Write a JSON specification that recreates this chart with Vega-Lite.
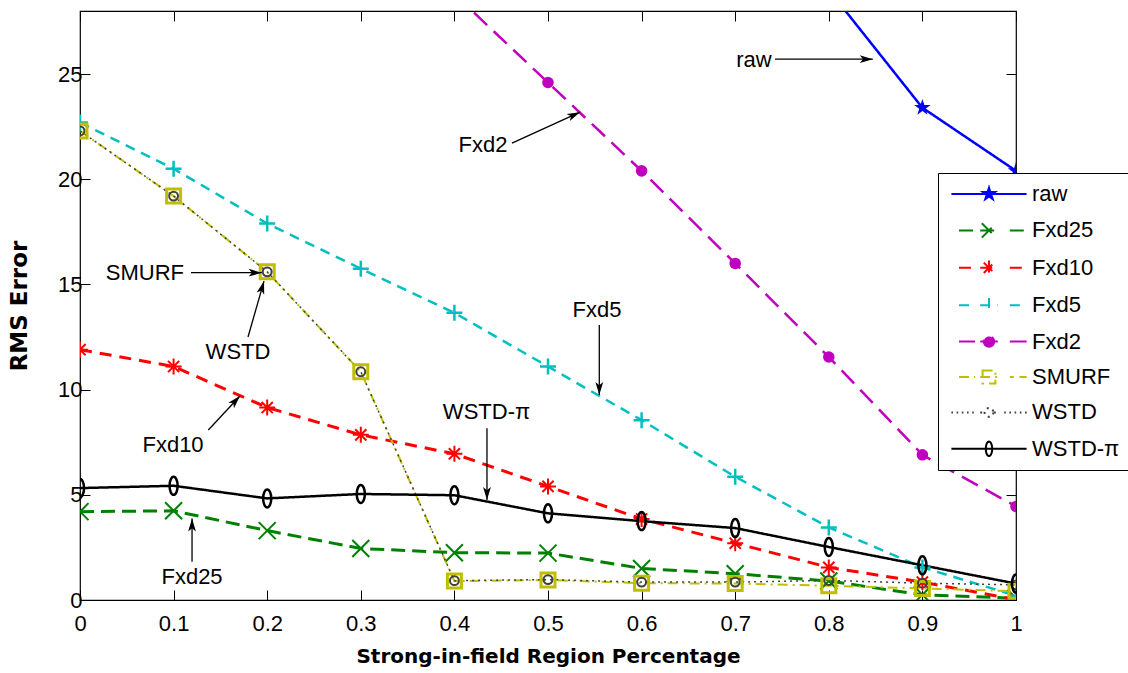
{
  "$schema": "https://vega.github.io/schema/vega-lite/v6.json",
  "width": 936,
  "height": 589,
  "autosize": {"type": "none"},
  "padding": {"left": 80, "top": 11, "right": 112, "bottom": 73},
  "background": "white",
  "config": {
    "font": "Liberation Sans",
    "view": {"stroke": "#000000", "strokeWidth": 1.2},
    "axis": {"grid": false, "domain": false, "tickColor": "#000000", "tickWidth": 1, "labelColor": "#000000", "labelFont": "Liberation Sans", "labelFontSize": 22, "titleColor": "#000000", "titleFont": "DejaVu Sans", "titleFontWeight": "bold"}
  },
  "datasets": {
    "series": [
      {"series": "raw", "x": 0.8, "y": 29.0}, {"series": "raw", "x": 0.9, "y": 23.4}, {"series": "raw", "x": 1.0, "y": 20.4},
      {"series": "Fxd25", "x": 0.0, "y": 4.2}, {"series": "Fxd25", "x": 0.1, "y": 4.24}, {"series": "Fxd25", "x": 0.2, "y": 3.3}, {"series": "Fxd25", "x": 0.3, "y": 2.45}, {"series": "Fxd25", "x": 0.4, "y": 2.25}, {"series": "Fxd25", "x": 0.5, "y": 2.23}, {"series": "Fxd25", "x": 0.6, "y": 1.5}, {"series": "Fxd25", "x": 0.7, "y": 1.25}, {"series": "Fxd25", "x": 0.8, "y": 0.9}, {"series": "Fxd25", "x": 0.9, "y": 0.25}, {"series": "Fxd25", "x": 1.0, "y": 0.08},
      {"series": "Fxd10", "x": 0.0, "y": 11.9}, {"series": "Fxd10", "x": 0.1, "y": 11.1}, {"series": "Fxd10", "x": 0.2, "y": 9.15}, {"series": "Fxd10", "x": 0.3, "y": 7.85}, {"series": "Fxd10", "x": 0.4, "y": 6.95}, {"series": "Fxd10", "x": 0.5, "y": 5.4}, {"series": "Fxd10", "x": 0.6, "y": 3.85}, {"series": "Fxd10", "x": 0.7, "y": 2.7}, {"series": "Fxd10", "x": 0.8, "y": 1.55}, {"series": "Fxd10", "x": 0.9, "y": 0.85}, {"series": "Fxd10", "x": 1.0, "y": 0.02},
      {"series": "Fxd5", "x": 0.0, "y": 22.7}, {"series": "Fxd5", "x": 0.1, "y": 20.5}, {"series": "Fxd5", "x": 0.2, "y": 17.9}, {"series": "Fxd5", "x": 0.3, "y": 15.75}, {"series": "Fxd5", "x": 0.4, "y": 13.65}, {"series": "Fxd5", "x": 0.5, "y": 11.1}, {"series": "Fxd5", "x": 0.6, "y": 8.55}, {"series": "Fxd5", "x": 0.7, "y": 5.86}, {"series": "Fxd5", "x": 0.8, "y": 3.45}, {"series": "Fxd5", "x": 0.9, "y": 1.55}, {"series": "Fxd5", "x": 1.0, "y": 0.2},
      {"series": "Fxd2", "x": 0.4, "y": 28.8}, {"series": "Fxd2", "x": 0.5, "y": 24.6}, {"series": "Fxd2", "x": 0.6, "y": 20.4}, {"series": "Fxd2", "x": 0.7, "y": 16.0}, {"series": "Fxd2", "x": 0.8, "y": 11.55}, {"series": "Fxd2", "x": 0.9, "y": 6.9}, {"series": "Fxd2", "x": 1.0, "y": 4.45},
      {"series": "SMURF", "x": 0.0, "y": 22.3}, {"series": "SMURF", "x": 0.1, "y": 19.2}, {"series": "SMURF", "x": 0.2, "y": 15.6}, {"series": "SMURF", "x": 0.3, "y": 10.85}, {"series": "SMURF", "x": 0.4, "y": 0.9}, {"series": "SMURF", "x": 0.5, "y": 0.95}, {"series": "SMURF", "x": 0.6, "y": 0.8}, {"series": "SMURF", "x": 0.7, "y": 0.78}, {"series": "SMURF", "x": 0.8, "y": 0.68}, {"series": "SMURF", "x": 0.9, "y": 0.55}, {"series": "SMURF", "x": 1.0, "y": 0.42},
      {"series": "WSTD", "x": 0.0, "y": 22.3}, {"series": "WSTD", "x": 0.1, "y": 19.2}, {"series": "WSTD", "x": 0.2, "y": 15.6}, {"series": "WSTD", "x": 0.3, "y": 10.85}, {"series": "WSTD", "x": 0.4, "y": 0.92}, {"series": "WSTD", "x": 0.5, "y": 0.97}, {"series": "WSTD", "x": 0.6, "y": 0.85}, {"series": "WSTD", "x": 0.7, "y": 0.85}, {"series": "WSTD", "x": 0.8, "y": 0.93}, {"series": "WSTD", "x": 0.9, "y": 0.8}, {"series": "WSTD", "x": 1.0, "y": 0.72},
      {"series": "WSTD-π", "x": 0.0, "y": 5.32}, {"series": "WSTD-π", "x": 0.1, "y": 5.43}, {"series": "WSTD-π", "x": 0.2, "y": 4.83}, {"series": "WSTD-π", "x": 0.3, "y": 5.04}, {"series": "WSTD-π", "x": 0.4, "y": 4.98}, {"series": "WSTD-π", "x": 0.5, "y": 4.12}, {"series": "WSTD-π", "x": 0.6, "y": 3.75}, {"series": "WSTD-π", "x": 0.7, "y": 3.42}, {"series": "WSTD-π", "x": 0.8, "y": 2.52}, {"series": "WSTD-π", "x": 0.9, "y": 1.65}, {"series": "WSTD-π", "x": 1.0, "y": 0.78}
    ],
    "ann": [
      {"label": "raw", "tx": 0.72, "ty": 25.67, "x1": 0.7425, "y1": 25.71, "x2": 0.847, "y2": 25.71},
      {"label": "Fxd2", "tx": 0.4306, "ty": 21.63, "x1": 0.4615, "y1": 21.72, "x2": 0.5342, "y2": 23.19},
      {"label": "SMURF", "tx": 0.0694, "ty": 15.54, "x1": 0.1186, "y1": 15.56, "x2": 0.1941, "y2": 15.56},
      {"label": "WSTD", "tx": 0.1688, "ty": 11.8, "x1": 0.1795, "y1": 12.5, "x2": 0.1966, "y2": 15.16},
      {"label": "Fxd10", "tx": 0.0994, "ty": 7.37, "x1": 0.1371, "y1": 8.08, "x2": 0.1709, "y2": 9.7},
      {"label": "Fxd25", "tx": 0.1197, "ty": 1.11, "x1": 0.1197, "y1": 1.82, "x2": 0.1197, "y2": 3.88},
      {"label": "Fxd5", "tx": 0.5524, "ty": 13.78, "x1": 0.5548, "y1": 13.07, "x2": 0.5548, "y2": 9.74},
      {"label": "WSTD-π", "tx": 0.4343, "ty": 8.95, "x1": 0.4348, "y1": 8.16, "x2": 0.4348, "y2": 4.75}
    ]
  },
  "layer": [
    {
      "data": {"name": "series"},
      "mark": {"type": "line", "clip": true},
      "encoding": {
        "x": {"field": "x", "type": "quantitative", "scale": {"domain": [0, 1], "nice": false, "zero": false},
          "axis": {"orient": "bottom", "values": [0, 0.1, 0.2, 0.3, 0.4, 0.5, 0.6, 0.7, 0.8, 0.9, 1], "format": ".1~f", "tickSize": -10, "labelFlush": false, "labelPadding": 23, "labelOverlap": false, "title": "Strong-in-field Region Percentage", "titleFontSize": 20, "titlePadding": 12}},
        "y": {"field": "y", "type": "quantitative", "scale": {"domain": [0, 28], "nice": false, "zero": false},
          "axis": {"orient": "left", "values": [0, 5, 10, 15, 20, 25], "format": "d", "tickSize": -10, "labelPadding": 8, "labelOverlap": false, "title": "RMS Error", "titleFontSize": 23, "titlePadding": 26}},
        "color": {"field": "series", "type": "nominal",
          "scale": {"domain": ["raw", "Fxd25", "Fxd10", "Fxd5", "Fxd2", "SMURF", "WSTD", "WSTD-π"], "range": ["#0000FF", "#008000", "#FF0000", "#00BFBF", "#BF00BF", "#BFBF00", "#404040", "#000000"]},
          "legend": {
            "orient": "none", "legendX": 858, "legendY": 162, "title": null,
            "fillColor": "#FFFFFF", "strokeColor": "#000000", "padding": 10,
            "labelFont": "Liberation Sans", "labelFontSize": 22, "labelColor": "#000000",
            "symbolSize": 64, "symbolStrokeWidth": 2, "symbolOffset": 30, "labelOffset": 32, "rowPadding": 13.4,
            "encode": {"symbols": {"update": {
              "shape": {"signal": "datum.value === 'raw' ? 'M-9.4,0H9.4M0,-1.6L0.36,-0.49L1.52,-0.49L0.58,0.19L0.94,1.29L0,0.61L-0.94,1.29L-0.58,0.19L-1.52,-0.49L-0.36,-0.49Z' : datum.value === 'Fxd25' ? 'M-7.5,0H-3.5M-2.2,0H2.2M5.2,0H9.4M-1.8,-1.8L1.8,1.8M-1.8,1.8L1.8,-1.8' : datum.value === 'Fxd10' ? 'M-7.5,0H-3.5M-2.2,0H2.2M5.2,0H9.4M0,-1.8V1.8M-1.3,-1.3L1.3,1.3M-1.3,1.3L1.3,-1.3' : datum.value === 'Fxd5' ? 'M-7.5,0H-3.5M-2.2,0H2.2M5.2,0H9.4M0,-1.8V1.8' : datum.value === 'Fxd2' ? 'M-7.5,0H-3.5M-2.2,0H2.2M5.2,0H9.4M1.3,0A1.3,1.3 0 1,1 -1.3,0A1.3,1.3 0 1,1 1.3,0Z' : datum.value === 'SMURF' ? 'M-7.5,0H-3.5M-2.2,0H2.2M5.2,0H6.2M7.6,0H9.4M-1.6,-1.6H1.6V1.6H-1.6Z' : datum.value === 'WSTD' ? 'M-9.4,0H-9M-8.1,0H-7.7M-6.8,0H-6.4M-5.5,0H-5.1M-4.2,0H-3.8M-2.2,0H-1.2M1.2,0H2.2M3.8,0H4.2M5.1,0H5.5M6.4,0H6.8M7.7,0H8.1M9,0H9.4M1.1,0A1.1,1.1 0 1,1 -1.1,0A1.1,1.1 0 1,1 1.1,0Z' : 'M-9.4,0H9.4M0,-1.8A0.8,1.8 0 1,1 0,1.8A0.8,1.8 0 1,1 0,-1.8Z'"},
              "stroke": {"signal": "scale('color', datum.value)"},
              "fill": {"signal": "datum.value === 'raw' || datum.value === 'Fxd2' ? scale('color', datum.value) : 'transparent'"},
              "strokeWidth": {"value": 2},
              "opacity": {"value": 1}
            }}}
          }},
        "strokeDash": {"field": "series", "type": "nominal",
          "scale": {"domain": ["raw", "Fxd25", "Fxd10", "Fxd5", "Fxd2", "SMURF", "WSTD", "WSTD-π"], "range": [[1, 0], [14, 7], [12, 8], [10, 7], [18, 9], [10, 5, 2, 5], [2, 4], [1, 0]]},
          "legend": null},
        "strokeWidth": {"condition": [
          {"test": "datum.series === 'Fxd25' || datum.series === 'Fxd10'", "value": 3},
          {"test": "datum.series === 'Fxd2' || datum.series === 'WSTD-π' || datum.series === 'raw' || datum.series === 'Fxd5'", "value": 2.5},
          {"test": "datum.series === 'WSTD'", "value": 1.5}
        ], "value": 2}
      }
    },
    {
      "data": {"name": "series"},
      "transform": [{"filter": "datum.series === 'raw'"}],
      "mark": {"type": "point", "filled": true, "clip": true, "opacity": 1, "color": "#0000FF", "size": 300, "shape": "M0,-1L0.225,-0.309L0.951,-0.309L0.363,0.118L0.588,0.809L0,0.382L-0.588,0.809L-0.363,0.118L-0.951,-0.309L-0.225,-0.309Z"},
      "encoding": {"x": {"field": "x", "type": "quantitative", "axis": null}, "y": {"field": "y", "type": "quantitative", "axis": null}}
    },
    {
      "data": {"name": "series"},
      "transform": [{"filter": "datum.series === 'Fxd25'"}],
      "mark": {"type": "point", "filled": false, "clip": true, "opacity": 1, "color": "#008000", "size": 289, "strokeWidth": 2, "shape": "M-1,-1L1,1M-1,1L1,-1"},
      "encoding": {"x": {"field": "x", "type": "quantitative", "axis": null}, "y": {"field": "y", "type": "quantitative", "axis": null}}
    },
    {
      "data": {"name": "series"},
      "transform": [{"filter": "datum.series === 'Fxd10'"}],
      "mark": {"type": "point", "filled": false, "clip": true, "opacity": 1, "color": "#FF0000", "size": 256, "strokeWidth": 2, "shape": "M-1,0H1M0,-1V1M-0.7,-0.7L0.7,0.7M-0.7,0.7L0.7,-0.7"},
      "encoding": {"x": {"field": "x", "type": "quantitative", "axis": null}, "y": {"field": "y", "type": "quantitative", "axis": null}}
    },
    {
      "data": {"name": "series"},
      "transform": [{"filter": "datum.series === 'Fxd5'"}],
      "mark": {"type": "point", "filled": false, "clip": true, "opacity": 1, "color": "#00BFBF", "size": 256, "strokeWidth": 2.5, "shape": "M-1,0H1M0,-1V1"},
      "encoding": {"x": {"field": "x", "type": "quantitative", "axis": null}, "y": {"field": "y", "type": "quantitative", "axis": null}}
    },
    {
      "data": {"name": "series"},
      "transform": [{"filter": "datum.series === 'Fxd2'"}],
      "mark": {"type": "point", "filled": true, "clip": true, "opacity": 1, "color": "#BF00BF", "size": 133, "shape": "circle"},
      "encoding": {"x": {"field": "x", "type": "quantitative", "axis": null}, "y": {"field": "y", "type": "quantitative", "axis": null}}
    },
    {
      "data": {"name": "series"},
      "transform": [{"filter": "datum.series === 'SMURF'"}],
      "mark": {"type": "point", "filled": false, "clip": true, "opacity": 1, "color": "#BFBF00", "size": 196, "strokeWidth": 3, "shape": "square"},
      "encoding": {"x": {"field": "x", "type": "quantitative", "axis": null}, "y": {"field": "y", "type": "quantitative", "axis": null}}
    },
    {
      "data": {"name": "series"},
      "transform": [{"filter": "datum.series === 'WSTD'"}],
      "mark": {"type": "point", "filled": false, "clip": true, "opacity": 1, "color": "#404040", "size": 79, "strokeWidth": 2, "shape": "circle"},
      "encoding": {"x": {"field": "x", "type": "quantitative", "axis": null}, "y": {"field": "y", "type": "quantitative", "axis": null}}
    },
    {
      "data": {"name": "series"},
      "transform": [{"filter": "datum.series === 'WSTD-π'"}],
      "mark": {"type": "point", "filled": false, "clip": true, "opacity": 1, "color": "#000000", "size": 324, "strokeWidth": 2.5, "shape": "M0,-1A0.45,1 0 1,1 0,1A0.45,1 0 1,1 0,-1Z"},
      "encoding": {"x": {"field": "x", "type": "quantitative", "axis": null}, "y": {"field": "y", "type": "quantitative", "axis": null}}
    },
    {
      "data": {"name": "ann"},
      "mark": {"type": "rule", "color": "#000000", "strokeWidth": 1.3},
      "encoding": {
        "x": {"field": "x1", "type": "quantitative", "axis": null},
        "y": {"field": "y1", "type": "quantitative", "axis": null},
        "x2": {"field": "x2"},
        "y2": {"field": "y2"}
      }
    },
    {
      "data": {"name": "ann"},
      "transform": [{"calculate": "atan2((datum.x2 - datum.x1) * 936, (datum.y2 - datum.y1) * 21.04) * 180 / PI", "as": "angle"}],
      "mark": {"type": "point", "filled": true, "color": "#000000", "opacity": 1, "shape": "M0,0L0.6,2L0,1.5L-0.6,2Z", "size": 169},
      "encoding": {
        "x": {"field": "x2", "type": "quantitative", "axis": null},
        "y": {"field": "y2", "type": "quantitative", "axis": null},
        "angle": {"field": "angle", "type": "quantitative", "scale": null}
      }
    },
    {
      "data": {"name": "ann"},
      "mark": {"type": "text", "font": "Liberation Sans", "fontSize": 22, "color": "#000000", "align": "center", "baseline": "middle"},
      "encoding": {
        "x": {"field": "tx", "type": "quantitative",
          "axis": {"orient": "top", "values": [0, 0.1, 0.2, 0.3, 0.4, 0.5, 0.6, 0.7, 0.8, 0.9, 1], "labels": false, "title": null, "tickSize": -10}},
        "y": {"field": "ty", "type": "quantitative",
          "axis": {"orient": "right", "values": [0, 5, 10, 15, 20, 25], "labels": false, "title": null, "tickSize": -10}},
        "text": {"field": "label"}
      }
    }
  ],
  "resolve": {"axis": {"x": "independent", "y": "independent"}}
}
